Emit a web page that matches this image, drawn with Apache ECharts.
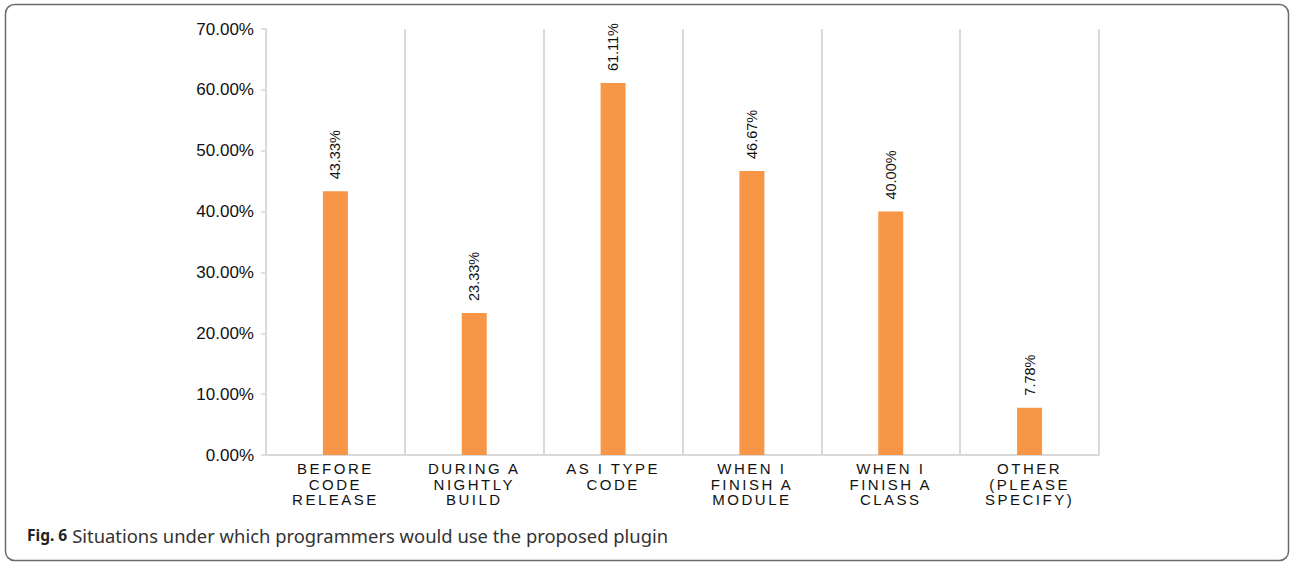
<!DOCTYPE html>
<html>
<head>
<meta charset="utf-8">
<script src="https://cdn.jsdelivr.net/npm/echarts@6/dist/echarts.min.js"></script>
<style>
  html, body { margin: 0; padding: 0; background: #fff; }
  #chart { width: 1291px; height: 562px; }
  /* widely tracked category captions under the axis */
  #chart text[style*="xlbl"] { letter-spacing: 2.5px; }
</style>
</head>
<body>
<div id="chart"></div>
<script>
// Situations in which the plugin would be used (share of respondents, %)
const categories = [
  'BEFORE\nCODE\nRELEASE',
  'DURING A\nNIGHTLY\nBUILD',
  'AS I TYPE\nCODE',
  'WHEN I\nFINISH A\nMODULE',
  'WHEN I\nFINISH A\nCLASS',
  'OTHER\n(PLEASE\nSPECIFY)'
];
const shares = [43.33, 23.33, 61.11, 46.67, 40.00, 7.78];
const yTicks = { min: 0, max: 70, interval: 10 };
const captionBold = 'Fig. 6';
const captionText = 'Situations under which programmers would use the proposed plugin';

const chart = echarts.init(document.getElementById('chart'), null, { renderer: 'svg' });

const axisGray = '#d9d9d9';

chart.setOption({
  animation: false,
  backgroundColor: '#ffffff',
  grid: { left: 266, right: 192, top: 29, bottom: 107, containLabel: false },
  title: {
    left: 22,
    top: 521,
    text: '{b|' + captionBold + '} {n|' + captionText + '}',
    textStyle: {
      fontWeight: 'normal',
      rich: {
        b: { fontFamily: 'Noto Sans', fontWeight: 'bold', fontSize: 15.5, color: '#222' },
        n: { fontFamily: 'Noto Sans', fontWeight: 'normal', fontSize: 18.4, color: '#333' }
      }
    }
  },
  graphic: [{
    type: 'rect',
    shape: { x: 5.5, y: 4.5, width: 1283, height: 556, r: 9 },
    style: { fill: 'none', stroke: '#6b6b6b', lineWidth: 1.5 },
    silent: true,
    z: 100
  }],
  xAxis: {
    type: 'category',
    data: categories,
    boundaryGap: true,
    axisLine: { show: true, lineStyle: { color: axisGray, width: 2 } },
    axisTick: { show: false },
    splitLine: { show: true, lineStyle: { color: axisGray, width: 2 } },
    axisLabel: {
      interval: 0,
      margin: 6,
      color: '#111',
      fontFamily: 'Liberation Sans, xlbl',
      fontSize: 15,
      lineHeight: 15.5
    }
  },
  yAxis: {
    type: 'value',
    min: yTicks.min,
    max: yTicks.max,
    interval: yTicks.interval,
    axisLine: { show: true, lineStyle: { color: axisGray, width: 2 } },
    axisTick: { show: true, length: 5, lineStyle: { color: axisGray, width: 1.5 } },
    splitLine: { show: false },
    axisLabel: {
      margin: 12,
      color: '#111',
      fontFamily: 'Liberation Sans',
      fontSize: 17,
      formatter: v => v.toFixed(2) + '%'
    }
  },
  series: [{
    type: 'bar',
    data: shares,
    barWidth: 25,
    itemStyle: { color: '#F79646' },
    label: {
      show: true,
      position: 'top',
      distance: 12,
      rotate: 90,
      align: 'left',
      verticalAlign: 'middle',
      color: '#111',
      fontFamily: 'Liberation Sans',
      fontSize: 14.5,
      formatter: p => p.value.toFixed(2) + '%'
    }
  }]
});
</script>
</body>
</html>
